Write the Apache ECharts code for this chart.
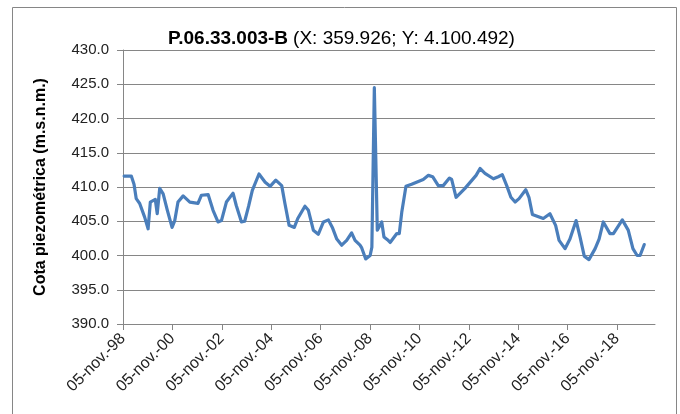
<!DOCTYPE html>
<html>
<head>
<meta charset="utf-8">
<script src="https://cdn.jsdelivr.net/npm/echarts@6/dist/echarts.min.js"></script>
<style>
  html, body { margin: 0; padding: 0; background: #fff; }
  #main { width: 680px; height: 414px; }
</style>
</head>
<body>
<div id="main"></div>
<script>
// fecha de medida (año decimal) y cota piezométrica (m.s.n.m.)
var years = [
  1998.89, 1999.18, 1999.29, 1999.38, 1999.52, 1999.72, 1999.86, 1999.95, 2000.15, 2000.23,
  2000.33, 2000.47, 2000.64, 2000.83, 2000.94, 2001.07, 2001.28, 2001.55, 2001.88, 2002.02,
  2002.29, 2002.49, 2002.69, 2002.83, 2003.03, 2003.30, 2003.43, 2003.64, 2003.77, 2003.93,
  2004.08, 2004.35, 2004.60, 2004.80, 2005.03, 2005.27, 2005.40, 2005.57, 2005.78, 2005.92,
  2006.21, 2006.35, 2006.55, 2006.75, 2006.96, 2007.16, 2007.32, 2007.50, 2007.70, 2007.90,
  2008.10, 2008.24, 2008.44, 2008.51, 2008.67, 2008.85, 2008.92, 2009.02, 2009.14, 2009.32,
  2009.41, 2009.55, 2009.66, 2009.93, 2010.03, 2010.13, 2010.30, 2010.53, 2011.00, 2011.21,
  2011.38, 2011.61, 2011.81, 2012.06, 2012.15, 2012.33, 2012.69, 2013.14, 2013.30, 2013.50,
  2013.84, 2014.04, 2014.20, 2014.38, 2014.55, 2014.72, 2014.88, 2015.15, 2015.28, 2015.42,
  2015.86, 2016.13, 2016.36, 2016.50, 2016.74, 2016.94, 2017.19, 2017.35, 2017.52, 2017.71,
  2017.96, 2018.12, 2018.29, 2018.56, 2018.70, 2019.06, 2019.30, 2019.49, 2019.66, 2019.78,
  2019.95
];
var cota = [
  411.6, 411.6, 410.4, 408.3, 407.6, 405.6, 403.9, 407.8, 408.2, 406.1,
  409.8, 409.0, 406.6, 404.1, 405.1, 407.8, 408.7, 407.8, 407.6, 408.8,
  408.9, 406.6, 404.9, 405.1, 407.8, 409.1, 407.3, 404.9, 405.0, 407.2,
  409.5, 411.9, 410.7, 410.1, 411.0, 410.2, 407.6, 404.4, 404.1, 405.4,
  407.2, 406.6, 403.7, 403.1, 404.9, 405.2, 404.1, 402.4, 401.5, 402.2,
  403.3, 402.2, 401.5, 401.1, 399.5, 400.0, 401.2, 424.5, 403.7, 404.9,
  402.7, 402.3, 401.9, 403.2, 403.2, 406.3, 410.1, 410.4, 411.1, 411.7,
  411.5, 410.2, 410.2, 411.3, 411.1, 408.5, 409.8, 411.7, 412.7, 412.0,
  411.2, 411.5, 411.8, 410.2, 408.5, 407.8, 408.3, 409.6, 408.5, 406.0,
  405.4, 406.1, 404.4, 402.2, 401.0, 402.4, 405.1, 402.7, 399.9, 399.4,
  401.0, 402.4, 404.9, 403.2, 403.2, 405.2, 403.7, 401.0, 400.0, 400.0,
  401.6
];
// eje X: años desde el 05-nov-1998, marcas cada 2 años
var START = 1998 + 308 / 365;
var xTicks = [0, 2, 4, 6, 8, 10, 12, 14, 16, 18, 20];
var xMax = 21.54;

var chart = echarts.init(document.getElementById('main'));

var serie = years.map(function (y, i) {
  return [y - START, cota[i]];
});

var option = {
  animation: false,
  textStyle: { fontFamily: 'Liberation Sans' },
  graphic: [{
    type: 'rect',
    shape: { x: 12.5, y: 7.5, width: 664, height: 420 },
    style: { fill: 'none', stroke: '#868686', lineWidth: 1 },
    silent: true
  }],
  title: {
    left: 163,
    top: 24,
    text: '{b|P.06.33.003-B} {n|(X: 359.926; Y: 4.100.492)}',
    textStyle: {
      rich: {
        b: { fontSize: 19, fontWeight: 'bold', color: '#000', fontFamily: 'Liberation Sans' },
        n: { fontSize: 19, fontWeight: 'normal', color: '#000', fontFamily: 'Liberation Sans' }
      }
    }
  },
  grid: { left: 123, right: 25, top: 50, bottom: 90, containLabel: false },
  xAxis: {
    type: 'value',
    min: 0,
    max: xMax,
    interval: 2,
    axisLine: { show: true, lineStyle: { color: '#868686', width: 1 } },
    axisTick: { show: true, length: 6, customValues: xTicks, lineStyle: { color: '#868686' } },
    splitLine: { show: false },
    axisLabel: {
      customValues: xTicks,
      rotate: 45,
      margin: 12,
      fontSize: 16,
      color: '#222',
      formatter: function (v) {
        var yy = (1998 + Math.round(v)) % 100;
        return '05-nov.-' + (yy < 10 ? '0' + yy : yy);
      }
    }
  },
  yAxis: {
    type: 'value',
    min: 390,
    max: 430,
    interval: 5,
    name: 'Cota piezométrica (m.s.n.m.)',
    nameLocation: 'middle',
    nameGap: 74,
    nameTextStyle: { fontSize: 16, fontWeight: 'bold', color: '#000' },
    axisLine: { show: true, lineStyle: { color: '#868686', width: 1 } },
    axisTick: { show: true, length: 6, lineStyle: { color: '#868686' } },
    splitLine: { show: true, lineStyle: { color: '#868686', width: 1 } },
    axisLabel: {
      fontSize: 15,
      color: '#222',
      margin: 14,
      formatter: function (v) { return v.toFixed(1); }
    }
  },
  series: [{
    type: 'line',
    data: serie,
    showSymbol: false,
    smooth: false,
    lineStyle: { color: '#4a7ebb', width: 3.2, join: 'round', cap: 'round' }
  }]
};

chart.setOption(option);
</script>
</body>
</html>
